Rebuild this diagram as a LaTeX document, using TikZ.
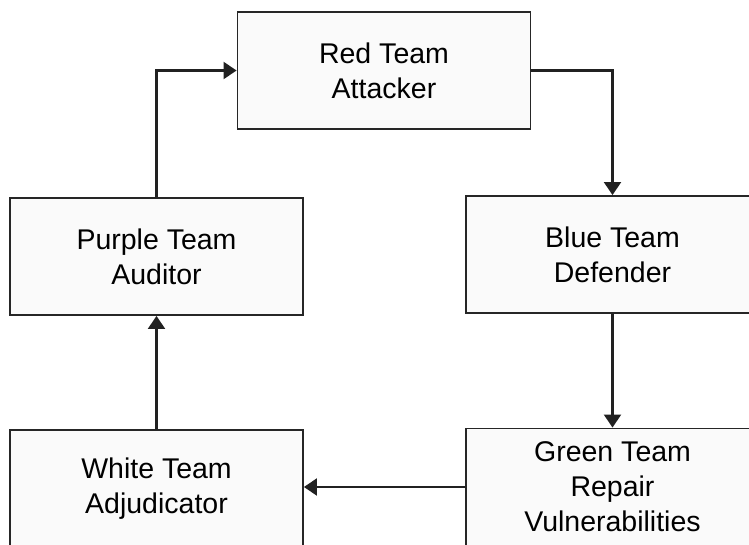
\documentclass[tikz,border=0pt]{standalone}
\usepackage{fontspec}
\setmainfont{Liberation Sans}
\usetikzlibrary{arrows.meta}
\begin{document}
\begin{tikzpicture}[x=1pt,y=-1pt,
  box/.style={draw=black!85, line width=1.9pt, fill=black!2, minimum width=293pt, minimum height=117pt, align=center, font=\fontsize{28.5}{35}\selectfont, inner sep=0pt},
  conn/.style={draw=black!87, line width=2.1pt, -{Triangle[length=13pt,width=17pt]}}]
\useasboundingbox (0,0) rectangle (749,545);
\fill[white] (0,0) rectangle (749,545);
\node[box] (red) at (384,70.5) {Red Team\\Attacker};
\node[box] (purple) at (156.5,256.5) {Purple Team\\Auditor};
\node[box] (blue) at (612.5,254.5) {Blue Team\\Defender};
\node[box] (white) at (156.5,488.5) {White Team\\Adjudicator};
\node[box] (green) at (612.5,487) {Green Team\\Repair\\Vulnerabilities};
\draw[conn] (purple.north) |- (red.west);
\draw[conn] (red.east) -| (blue.north);
\draw[conn] (blue.south) -- (green.north);
\draw[conn] (green.west) -- (white.east |- green.west);
\draw[conn] (white.north) -- (purple.south);
\end{tikzpicture}
\end{document}
